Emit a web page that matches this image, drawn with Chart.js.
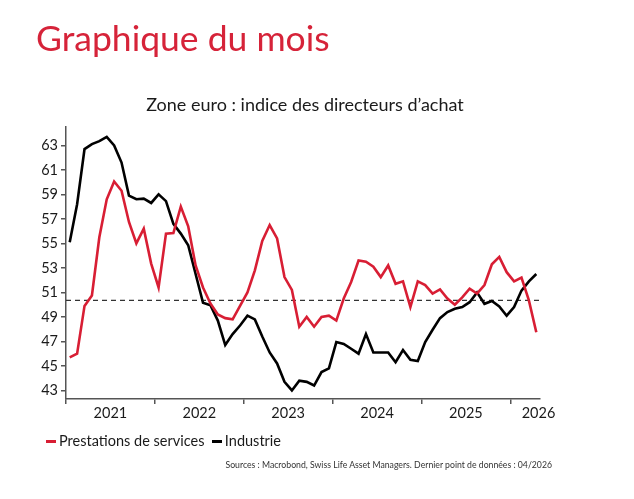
<!DOCTYPE html>
<html>
<head>
<meta charset="utf-8">
<script src="https://cdn.jsdelivr.net/npm/chart.js@4"></script>
<style>
  body { margin: 0; background: #fff; font-family: Lato, "Open Sans", sans-serif; }
  #page { position: relative; width: 634px; height: 499px; overflow: hidden; }
  #chart { position: absolute; left: 0; top: 0; }
  .txt { position: absolute; white-space: nowrap; }
  #heading { left: 36px; top: 16px; font-size: 35.5px; color: #d62339; }
  #subtitle { left: 0; width: 610px; top: 93px; text-align: center; font-size: 18px; color: #1a1a1a; }
  #legend { left: 46px; top: 432px; font-size: 14.5px; color: #1a1a1a; }
  #legend span.mk { display: inline-block; width: 10px; height: 3px; vertical-align: middle; margin-right: 3px; position: relative; top: -1px; }
  #sources { right: 82px; top: 459px; font-size: 8.7px; color: #333; }
</style>
</head>
<body>
<div id="page">
  <canvas id="chart" width="634" height="499"></canvas>
  <div class="txt" id="heading">Graphique du mois</div>
  <div class="txt" id="subtitle">Zone euro : indice des directeurs d’achat</div>
  <div class="txt" id="legend"><span class="mk" style="background:#d81e34"></span>Prestations de services&nbsp;&nbsp;<span class="mk" style="background:#000"></span>Industrie</div>
  <div class="txt" id="sources">Sources : Macrobond, Swiss Life Asset Managers. Dernier point de données : 04/2026</div>
</div>
<script>
// monthly values, 01/2021 -> 04/2026
const services = [45.7, 46.0, 49.9, 50.75, 55.5, 58.6, 60.05, 59.3, 56.75, 55.0, 56.2, 53.35,
  51.4, 55.8, 55.85, 58.0, 56.4, 53.2, 51.4, 50.1, 49.2, 48.9, 48.8, 49.9,
  51.0, 52.8, 55.2, 56.5, 55.4, 52.25, 51.2, 48.2, 49.0, 48.2, 49.0, 49.1,
  48.7, 50.5, 51.85, 53.6, 53.5, 53.1, 52.25, 53.2, 51.7, 51.9, 49.8, 51.9,
  51.6, 50.9, 51.25, 50.5, 50.0, 50.6, 51.3, 50.9, 51.6, 53.3, 53.9, 52.65,
  51.9, 52.2, 50.35, 47.75];
const industrie = [55.1, 58.2, 62.7, 63.1, 63.35, 63.7, 63.0, 61.6, 58.9, 58.6, 58.65, 58.3,
  59.0, 58.45, 56.6, 55.8, 54.85, 52.5, 50.15, 49.95, 48.7, 46.7, 47.6, 48.3,
  49.1, 48.8, 47.4, 46.1, 45.2, 43.7, 43.0, 43.8, 43.7, 43.4, 44.5, 44.8,
  46.95, 46.8, 46.4, 46.0, 47.6, 46.1, 46.1, 46.1, 45.3, 46.3, 45.5, 45.4,
  46.95, 47.95, 48.9, 49.4, 49.67, 49.8, 50.2, 51.0, 50.07, 50.3, 49.86, 49.1,
  49.8, 51.15, 51.9, 52.5];
const refLine = 50.35;
const years = ['2021', '2022', '2023', '2024', '2025', '2026'];
const yearLabelPos = [6, 18, 30, 42, 54, 63.8];
const yearStarts = [0, 12, 24, 36, 48, 60];
const yTicks = [43, 45, 47, 49, 51, 53, 55, 57, 59, 61, 63];
const nMonths = 64;

const red = '#d81e34';
const axisColor = '#555';

function toPoints(arr) {
  return arr.map((v, i) => ({ x: i + 0.5, y: v }));
}

new Chart(document.getElementById('chart').getContext('2d'), {
  type: 'line',
  data: {
    datasets: [
      { label: 'Prestations de services', data: toPoints(services), borderColor: red, borderWidth: 2.6, pointRadius: 0, tension: 0 },
      { label: 'Industrie', data: toPoints(industrie), borderColor: '#000', borderWidth: 2.6, pointRadius: 0, tension: 0 },
      { label: 'ref', data: [{ x: 0, y: refLine }, { x: nMonths, y: refLine }], borderColor: '#333', borderWidth: 1.4, borderDash: [5, 4], pointRadius: 0 }
    ]
  },
  options: {
    responsive: false,
    animation: false,
    events: [],
    layout: { padding: { left: 30, right: 94, top: 127, bottom: 70 } },
    plugins: { legend: { display: false }, title: { display: false }, tooltip: { enabled: false } },
    scales: {
      x: {
        type: 'linear', min: 0, max: nMonths,
        border: { display: true, color: axisColor, width: 1.5 },
        grid: { drawOnChartArea: false, drawTicks: true, tickLength: 5, color: axisColor, lineWidth: 1.5 },
        ticks: { display: false },
        afterBuildTicks: s => { s.ticks = yearStarts.map(v => ({ value: v })); },
        afterFit: s => { s.height = 0; }
      },
      x2: {
        type: 'linear', position: 'bottom', min: 0, max: nMonths,
        border: { display: false },
        grid: { display: false },
        ticks: {
          color: '#1a1a1a', font: { family: 'Lato', size: 14.5 }, padding: -2, maxRotation: 0, autoSkip: false,
          callback: (v) => years[yearLabelPos.indexOf(v)]
        },
        afterBuildTicks: s => { s.ticks = yearLabelPos.map(v => ({ value: v })); },
        afterFit: s => { s.height = 30; }
      },
      y: {
        min: 42.3, max: 64.5,
        border: { display: true, color: axisColor, width: 1.5 },
        grid: { drawOnChartArea: false, drawTicks: true, tickLength: 5, color: axisColor, lineWidth: 1.5 },
        ticks: { color: '#1a1a1a', font: { family: 'Lato', size: 14.5 }, padding: 3 },
        afterBuildTicks: s => { s.ticks = yTicks.map(v => ({ value: v })); },
        afterFit: s => { s.width = 36; }
      }
    }
  }
});
</script>
</body>
</html>
